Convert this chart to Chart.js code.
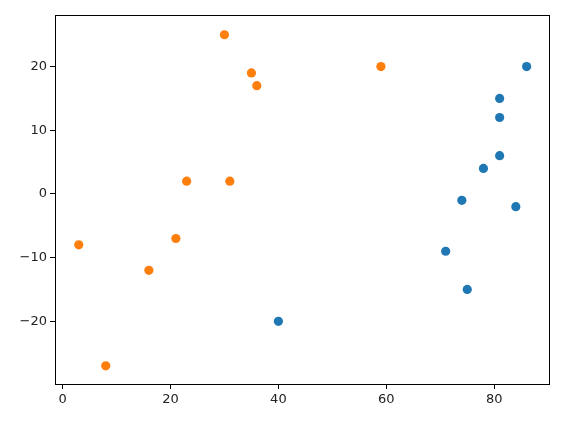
<!DOCTYPE html>
<html>
<head>
<meta charset="utf-8">
<script src="https://cdn.jsdelivr.net/npm/chart.js@4/dist/chart.umd.min.js"></script>
<style>
  html, body { margin: 0; padding: 0; background: #fff; }
  #wrap { width: 572px; height: 426px; }
</style>
</head>
<body>
<div id="wrap"><canvas id="chart" width="572" height="426"></canvas></div>
<script>
// blue series
const blueX = [86, 81, 81, 81, 78, 74, 84, 71, 75, 40];
const blueY = [20, 15, 12, 6, 4, -1, -2, -9, -15, -20];
// orange series
const orangeX = [30, 35, 36, 59, 23, 31, 21, 3, 16, 8];
const orangeY = [25, 19, 17, 20, 2, 2, -7, -8, -12, -27];

const xTicks = [0, 20, 40, 60, 80];
const yTicks = [-20, -10, 0, 10, 20];

const toPoints = (xs, ys) => xs.map((x, i) => ({ x: x, y: ys[i] }));
const minus = v => String(v).replace('-', '\u2212');

// matplotlib-style full box around the axes
const frame = {
    id: 'frame',
    afterDraw(chart) {
        const { ctx, chartArea: a } = chart;
        ctx.save();
        ctx.strokeStyle = '#000';
        ctx.lineWidth = 1;
        ctx.strokeRect(Math.round(a.left) + 0.5, Math.round(a.top) + 0.5,
            Math.round(a.right - a.left), Math.round(a.bottom - a.top));
        ctx.restore();
    }
};

const axisCommon = {
    type: 'linear',
    grid: { drawOnChartArea: false, color: '#000', tickLength: 5, tickWidth: 1 },
    border: { display: false },
    ticks: { color: '#222', font: { family: 'DejaVu Sans', size: 13 }, padding: 3, includeBounds: false,
             autoSkip: false, maxRotation: 0, callback: v => minus(v) }
};

new Chart(document.getElementById('chart'), {
    type: 'scatter',
    data: {
        datasets: [
            { data: toPoints(blueX, blueY), backgroundColor: '#1f77b4', pointRadius: 4.6, borderWidth: 0, pointHoverRadius: 4.6 },
            { data: toPoints(orangeX, orangeY), backgroundColor: '#ff7f0e', pointRadius: 4.6, borderWidth: 0, pointHoverRadius: 4.6 }
        ]
    },
    options: {
        responsive: false,
        animation: false,
        layout: { padding: { top: 15, right: 23, left: 0, bottom: 0 } },
        plugins: { legend: { display: false }, tooltip: { enabled: false } },
        scales: {
            x: {
                ...axisCommon,
                min: -1.4, max: 90.15,
                afterBuildTicks: s => { s.ticks = xTicks.map(v => ({ value: v })); },
                afterFit: s => { s.height = 42; }
            },
            y: {
                ...axisCommon,
                min: -29.85, max: 28.1,
                afterBuildTicks: s => { s.ticks = yTicks.map(v => ({ value: v })); },
                afterFit: s => { s.width = 55; }
            }
        }
    },
    plugins: [frame]
});
</script>
</body>
</html>
